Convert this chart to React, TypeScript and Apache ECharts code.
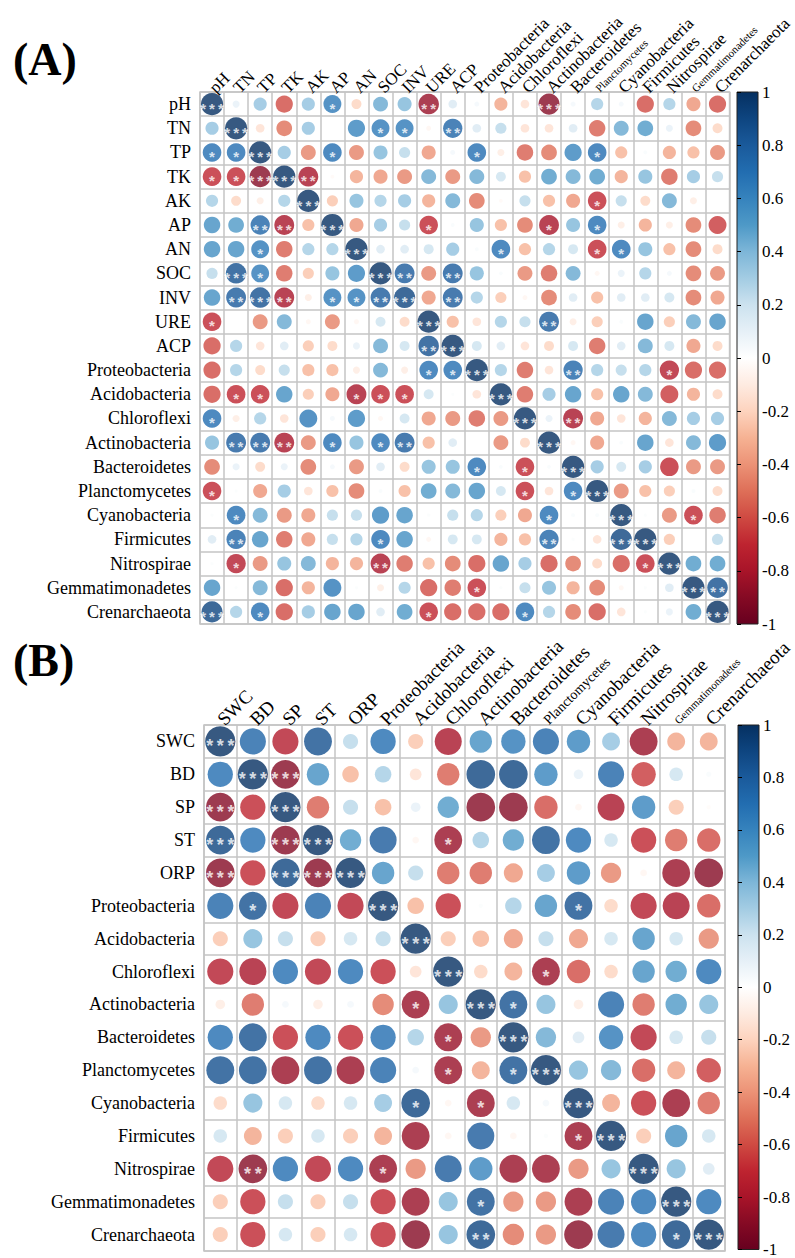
import React, { useEffect, useRef } from "react";
import * as echarts from "echarts";

const varsA = ["pH", "TN", "TP", "TK", "AK", "AP", "AN", "SOC", "INV", "URE", "ACP", "Proteobacteria", "Acidobacteria", "Chloroflexi", "Actinobacteria", "Bacteroidetes", "Planctomycetes", "Cyanobacteria", "Firmicutes", "Nitrospirae", "Gemmatimonadetes", "Crenarchaeota"];

const valuesA = [
  [1, 0.1, 0.35, -0.6, 0.35, 0.65, -0.2, 0.45, 0.4, -0.85, 0.15, 0.05, -0.35, -0.15, -0.9, 0.05, 0.3, 0.05, -0.6, 0.3, -0.4, -0.6],
  [0.35, 1, -0.15, -0.5, 0.35, 0, 0.6, 0.65, 0.65, -0.05, 0.75, 0.15, 0.25, -0.15, -0.15, 0.15, -0.55, 0.45, 0.5, 0.1, -0.5, -0.2],
  [0.7, 0.7, 1, 0.35, -0.45, 0.7, -0.45, 0.4, 0.25, -0.4, 0.05, 0.7, -0.1, -0.55, -0.5, 0.6, 0.7, -0.3, 0.03, -0.35, -0.3, -0.45],
  [-0.7, -0.7, -0.9, 1, -0.8, -0.03, -0.35, -0.4, -0.45, 0.45, -0.45, 0.45, 0.2, -0.3, 0.5, 0.45, 0.5, -0.35, 0.4, -0.55, 0.35, 0.25],
  [0.3, -0.2, -0.1, 0.3, 1, -0.25, 0.4, 0.3, 0.35, -0.35, 0.45, -0.5, -0.03, 0.25, -0.3, -0.4, -0.7, 0.25, -0.2, 0.45, -0.1, 0],
  [0.55, 0.5, 0.75, -0.8, -0.3, 1, -0.4, 0.35, 0.25, -0.7, 0.03, 0.4, -0.3, -0.5, -0.8, 0.4, 0.7, -0.1, -0.35, -0.1, -0.5, -0.65],
  [0.55, 0.55, 0.65, -0.55, 0.3, 0.3, 1, 0.15, 0.15, 0.2, 0.35, 0.03, 0.7, -0.3, 0.3, 0.2, -0.7, 0.7, 0.4, -0.3, -0.5, -0.2],
  [0.25, 0.85, 0.65, -0.55, -0.25, 0.4, 0.6, 1, 0.8, -0.45, 0.8, 0.4, 0.03, -0.45, -0.55, 0.45, -0.05, 0.1, 0.3, 0.05, -0.5, -0.45],
  [0.55, 0.8, 0.85, -0.8, -0.1, 0.65, 0.65, 0.8, 0.9, -0.4, 0.8, 0.3, -0.25, -0.05, -0.5, 0.15, -0.3, 0.15, 0.15, 0.2, -0.5, -0.4],
  [-0.7, 0, -0.45, 0.45, -0.05, -0.45, -0.05, 0.2, -0.2, 1, -0.3, -0.15, 0.3, 0.25, 0.8, -0.1, -0.25, 0.03, 0.55, -0.25, 0.45, 0.55],
  [-0.6, 0.3, -0.15, 0.15, -0.25, -0.2, 0.1, 0.45, 0.2, 0.85, 1, 0.2, 0.15, -0.15, -0.2, 0.2, -0.55, 0.15, 0.45, 0.2, -0.4, -0.2],
  [-0.6, 0.3, -0.2, 0.25, -0.3, -0.3, -0.1, 0.45, -0.1, 0.7, 0.7, 1, 0.3, -0.55, -0.15, 0.75, 0.3, 0.25, 0.3, -0.75, -0.6, -0.6],
  [-0.6, -0.7, -0.7, 0.55, -0.25, -0.4, -0.8, -0.7, -0.7, 0.2, 0.02, -0.15, 1, -0.55, 0.35, 0.55, -0.3, 0.55, 0.45, -0.65, -0.35, -0.2],
  [0.7, -0.1, 0.3, -0.15, 0.65, 0.05, 0.6, -0.05, 0.2, -0.4, -0.45, -0.55, -0.45, 1, 0.1, -0.8, -0.4, -0.15, -0.35, 0.45, 0.35, 0.35],
  [0.4, 0.8, 0.8, -0.8, -0.45, 0.7, 0.4, 0.7, 0.8, -0.3, 0.15, 0, -0.45, -0.2, 1, -0.05, -0.4, 0.03, 0.55, -0.15, 0.45, 0.6],
  [-0.5, 0.1, -0.2, 0.1, -0.5, 0.05, -0.45, 0.15, -0.2, 0.4, 0.4, 0.7, 0.03, -0.7, 0.03, 1, 0.35, 0.2, 0.35, -0.7, -0.45, -0.45],
  [-0.7, 0.02, -0.4, 0.35, -0.15, -0.3, -0.5, 0.03, -0.3, 0.5, 0.45, 0.55, 0.2, -0.7, -0.15, 0.7, 1, -0.45, -0.3, -0.25, 0.03, -0.2],
  [0.02, 0.7, 0.45, -0.45, -0.4, 0.25, 0.25, 0.6, 0.55, 0.02, 0.25, 0.3, -0.25, -0.4, 0.7, 0.03, 0.03, 1, 0.02, -0.45, -0.7, -0.55],
  [0.15, 0.75, 0.55, -0.55, -0.4, 0.25, 0.3, 0.7, 0.55, -0.05, 0.2, 0.2, -0.35, -0.3, 0.75, 0.02, -0.15, 0.9, 1, -0.25, 0, 0.25],
  [0.02, -0.75, -0.45, 0.4, 0.45, -0.35, -0.35, -0.8, -0.55, -0.3, -0.5, -0.6, 0.55, 0.35, -0.6, -0.5, -0.2, -0.6, -0.7, 1, 0.5, 0.5],
  [0.55, 0.02, 0.45, -0.6, -0.35, 0.65, 0.02, -0.1, 0.3, -0.6, -0.55, -0.7, 0.02, 0.25, 0.4, -0.35, -0.5, -0.05, 0.02, 0.15, 1, 0.85],
  [0.9, 0.3, 0.7, -0.6, 0.35, 0.55, 0.55, 0.15, 0.5, -0.7, -0.6, -0.6, -0.6, 0.7, 0.3, -0.5, -0.6, -0.15, 0.02, 0.1, 0.5, 1],
];

// [row, col, number of asterisks]
const sigA = [
  [0, 0, 3], [0, 5, 1], [0, 9, 2], [0, 14, 3],
  [1, 1, 3], [1, 7, 1], [1, 8, 1], [1, 10, 2],
  [2, 0, 1], [2, 1, 1], [2, 2, 3], [2, 5, 1], [2, 11, 1], [2, 16, 1],
  [3, 0, 1], [3, 1, 1], [3, 2, 3], [3, 3, 3], [3, 4, 2],
  [4, 4, 3], [4, 16, 1],
  [5, 2, 2], [5, 3, 2], [5, 5, 3], [5, 9, 1], [5, 14, 1], [5, 16, 1],
  [6, 2, 1], [6, 6, 3], [6, 12, 1], [6, 16, 1], [6, 17, 1],
  [7, 1, 3], [7, 2, 1], [7, 7, 3], [7, 8, 2], [7, 10, 2],
  [8, 1, 2], [8, 2, 3], [8, 3, 2], [8, 5, 1], [8, 6, 1], [8, 7, 2], [8, 8, 3], [8, 10, 2],
  [9, 0, 1], [9, 9, 3], [9, 14, 2],
  [10, 9, 2], [10, 10, 3],
  [11, 9, 1], [11, 10, 1], [11, 11, 3], [11, 15, 2], [11, 19, 1],
  [12, 1, 1], [12, 2, 1], [12, 6, 1], [12, 7, 1], [12, 8, 1], [12, 12, 3],
  [13, 0, 1], [13, 13, 3], [13, 15, 2],
  [14, 1, 2], [14, 2, 2], [14, 3, 2], [14, 5, 1], [14, 7, 1], [14, 8, 2], [14, 14, 3],
  [15, 11, 1], [15, 13, 1], [15, 15, 3],
  [16, 0, 1], [16, 13, 1], [16, 15, 1], [16, 16, 3],
  [17, 1, 1], [17, 14, 1], [17, 17, 3], [17, 20, 1],
  [18, 1, 2], [18, 7, 1], [18, 14, 2], [18, 17, 3], [18, 18, 3],
  [19, 1, 1], [19, 7, 2], [19, 18, 1], [19, 19, 3],
  [20, 11, 1], [20, 20, 3], [20, 21, 2],
  [21, 0, 3], [21, 2, 1], [21, 9, 1], [21, 13, 1], [21, 21, 3],
];

const varsB = ["SWC", "BD", "SP", "ST", "ORP", "Proteobacteria", "Acidobacteria", "Chloroflexi", "Actinobacteria", "Bacteroidetes", "Planctomycetes", "Cyanobacteria", "Firmicutes", "Nitrospirae", "Gemmatimonadetes", "Crenarchaeota"];

const valuesB = [
  [1, 0.75, -0.75, 0.85, 0.25, 0.7, -0.25, -0.8, 0.55, 0.65, 0.75, 0.6, 0.35, -0.85, -0.35, -0.35],
  [0.7, 1, -0.9, 0.55, -0.3, 0.3, -0.15, -0.55, 0.9, 0.9, 0.6, 0.1, 0.75, -0.65, 0.2, 0.03],
  [-0.9, -0.7, 1, -0.55, 0.25, -0.3, 0.1, 0.5, -0.9, -0.9, -0.6, -0.05, -0.8, 0.6, -0.25, -0.02],
  [0.9, 0.7, -0.9, 1, 0.5, 0.8, -0.05, -0.85, 0.3, 0.5, 0.85, 0.7, 0.2, -0.7, -0.55, -0.6],
  [-0.9, -0.7, 0.9, -0.9, 1, 0.55, 0.25, -0.55, -0.55, -0.4, 0.35, 0.6, -0.45, -0.05, -0.85, -0.9],
  [0.75, 0.85, -0.75, 0.75, -0.75, 1, -0.3, -0.7, 0.02, 0.3, 0.55, 0.85, -0.2, -0.75, -0.8, -0.6],
  [-0.25, 0.4, 0.25, -0.25, 0.2, 0.25, 1, -0.25, -0.3, -0.4, 0.25, -0.4, 0.2, 0.55, 0.2, -0.45],
  [-0.75, -0.8, 0.7, -0.75, 0.7, -0.7, -0.15, 1, -0.2, -0.35, -0.85, -0.6, -0.2, 0.55, 0.5, 0.7],
  [-0.1, -0.55, 0.05, -0.1, 0.05, -0.5, -0.85, 0.4, 1, 0.85, 0.4, -0.1, 0.75, -0.55, 0.5, 0.4],
  [0.7, 0.85, -0.7, 0.7, -0.7, 0.7, 0.3, -0.85, -0.45, 1, 0.45, 0.15, 0.65, -0.75, 0.2, 0.25],
  [0.85, 0.85, -0.85, 0.85, -0.85, 0.75, 0.05, -0.85, -0.35, 0.85, 1, 0.4, 0.45, -0.6, -0.35, -0.65],
  [-0.2, 0.4, 0.2, -0.2, 0.2, 0.35, 0.9, -0.05, -0.85, 0.2, 0.05, 1, -0.35, -0.7, -0.85, -0.55],
  [0.2, -0.35, -0.25, 0.2, -0.25, -0.35, -0.85, -0.05, 0.8, -0.05, 0.02, -0.85, 1, -0.25, 0.55, 0.2],
  [-0.75, -0.9, 0.7, -0.75, 0.7, -0.85, -0.45, 0.8, 0.6, -0.85, -0.85, -0.45, 0.4, 1, 0.4, 0.15],
  [-0.25, -0.7, 0.25, -0.25, 0.25, -0.7, -0.85, 0.4, 0.85, -0.45, -0.45, -0.85, 0.75, 0.7, 1, 0.7],
  [-0.25, -0.7, 0.2, -0.25, 0.2, -0.7, -0.9, 0.4, 0.9, -0.5, -0.45, -0.9, 0.8, 0.7, 0.9, 1],
];

const sigB = [
  [0, 0, 3],
  [1, 1, 3], [1, 2, 3],
  [2, 0, 3], [2, 2, 3],
  [3, 0, 3], [3, 2, 3], [3, 3, 3], [3, 7, 1],
  [4, 0, 3], [4, 2, 3], [4, 3, 3], [4, 4, 3],
  [5, 1, 1], [5, 5, 3], [5, 11, 1],
  [6, 6, 3],
  [7, 7, 3], [7, 10, 1],
  [8, 6, 1], [8, 8, 3], [8, 9, 1],
  [9, 7, 1], [9, 9, 3],
  [10, 7, 1], [10, 9, 1], [10, 10, 3],
  [11, 6, 1], [11, 8, 1], [11, 11, 3],
  [12, 11, 1], [12, 12, 3],
  [13, 1, 2], [13, 5, 1], [13, 13, 3],
  [14, 8, 1], [14, 14, 3],
  [15, 8, 2], [15, 14, 1], [15, 15, 3],
];

const panelTitles = ["(A)", "(B)"];
const smallLabelsA = ["Planctomycetes", "Gemmatimonadetes"];
const smallLabelsB = ["Gemmatimonadetes"];
const midLabelsB = ["Planctomycetes"];

// colour scale from -1 (first) to 1 (last), steps of 0.1
const palette = [
  "#67001F", "#850A24", "#A81429", "#BE2430", "#CF4A42", "#DE6F58", "#EC9276", "#F6B293", "#FDD3BE", "#FEEBE1",
  "#FFFFFF",
  "#E6F0F7", "#CCE2EF", "#A3CCE3", "#7DB6D8", "#4E99C7", "#3683BD", "#226DB0", "#1A5A9B", "#0E4580", "#053061",
];

const SERIF = "'Liberation Serif', 'Times New Roman', serif";

function buildData(values: number[][], sig: number[][]) {
  const m = new Map<string, number>();
  sig.forEach(([r, c, n]) => m.set(r + "-" + c, n));
  const out: any[] = [];
  values.forEach((row, r) =>
    row.forEach((v, c) => out.push({ value: [c, r, v, m.get(r + "-" + c) || 0] }))
  );
  return out;
}

function barGradient() {
  return new echarts.graphic.LinearGradient(
    0, 0, 0, 1,
    palette.slice().reverse().map((c, i) => ({ offset: i / (palette.length - 1), color: c }))
  );
}

export default function App() {
  const ref = useRef<HTMLDivElement>(null);
  useEffect(() => {
    document.body.style.margin = "0";
    const chart = echarts.init(ref.current!, null, { renderer: "svg" });

    const A = { left: 200, top: 92, size: 532 };
    const B = { left: 204, top: 725, size: 526 };
    const cellA = A.size / varsA.length;
    const cellB = B.size / varsB.length;

    const gridLine = { show: true, interval: 0, lineStyle: { color: "#c4c4c4", width: 1.5 } };

    const catX = (grid: number, data: string[], fontSize: number, small: string[], mid: string[], smallSize: number, midSize: number, margin: number) => ({
      type: "category",
      gridIndex: grid,
      position: "top",
      data,
      boundaryGap: true,
      axisLine: { show: false },
      axisTick: { show: false },
      splitLine: gridLine,
      axisLabel: {
        interval: 0,
        rotate: -45,
        align: "left",
        verticalAlign: "middle",
        margin,
        color: "#000",
        fontFamily: SERIF,
        fontSize,
        formatter: (v: string) => (small.includes(v) ? `{s|${v}}` : mid.includes(v) ? `{m|${v}}` : v),
        rich: {
          s: { fontFamily: SERIF, fontSize: smallSize, color: "#000" },
          m: { fontFamily: SERIF, fontSize: midSize, color: "#000" },
        },
      },
    });
    const catY = (grid: number, data: string[], fontSize: number) => ({
      type: "category",
      gridIndex: grid,
      inverse: true,
      data,
      boundaryGap: true,
      axisLine: { show: false },
      axisTick: { show: false },
      splitLine: gridLine,
      axisLabel: { interval: 0, margin: 9, color: "#000", fontFamily: SERIF, fontSize },
    });
    const barY = (grid: number) => ({
      type: "value",
      gridIndex: grid,
      position: "right",
      min: -1,
      max: 1,
      interval: 0.2,
      axisLine: { show: false },
      axisTick: { show: true, length: 4, lineStyle: { color: "#000", width: 1 } },
      splitLine: { show: false },
      axisLabel: {
        margin: 4,
        color: "#000",
        fontFamily: SERIF,
        fontSize: 17,
        formatter: (v: number) => String(Math.round(v * 10) / 10),
      },
    });

    const scatter = (xi: number, yi: number, values: number[][], sig: number[][], cell: number, starSize: number) => ({
      type: "scatter",
      xAxisIndex: xi,
      yAxisIndex: yi,
      symbol: "circle",
      symbolSize: (val: number[]) => cell * 0.92 * Math.sqrt(Math.abs(val[2])),
      data: buildData(values, sig),
      label: {
        show: true,
        position: "inside",
        formatter: (p: any) => Array(p.value[3]).fill("*").join("\u2009"),
        color: "#fff",
        fontFamily: "'Liberation Sans', Arial, sans-serif",
        fontWeight: "bold",
        fontSize: starSize,
        offset: [0, starSize * 0.28],
      },
      emphasis: { disabled: true },
    });

    chart.setOption({
      animation: false,
      backgroundColor: "#fff",
      title: [
        { text: panelTitles[0], left: 8, top: 31, textStyle: { fontFamily: SERIF, fontSize: 46, fontWeight: "bold", color: "#000" } },
        { text: panelTitles[1], left: 8, top: 632, textStyle: { fontFamily: SERIF, fontSize: 46, fontWeight: "bold", color: "#000" } },
      ],
      grid: [
        { left: A.left, top: A.top, width: A.size, height: A.size, show: true, backgroundColor: "#fff", borderColor: "#c4c4c4", borderWidth: 1.5 },
        { left: 737, top: A.top, width: 21, height: A.size, show: true, backgroundColor: barGradient(), borderColor: "#222", borderWidth: 1 },
        { left: B.left, top: B.top, width: B.size, height: B.size, show: true, backgroundColor: "#fff", borderColor: "#c4c4c4", borderWidth: 1.5 },
        { left: 738, top: B.top, width: 21, height: B.size, show: true, backgroundColor: barGradient(), borderColor: "#222", borderWidth: 1 },
      ],
      xAxis: [
        catX(0, varsA, 17, smallLabelsA, [], 11, 11, 2),
        { type: "value", gridIndex: 1, show: false },
        catX(2, varsB, 19, smallLabelsB, midLabelsB, 11, 14, 3),
        { type: "value", gridIndex: 3, show: false },
      ],
      yAxis: [catY(0, varsA, 18), barY(1), catY(2, varsB, 18), barY(3)],
      visualMap: {
        show: false,
        type: "continuous",
        seriesIndex: [0, 1],
        dimension: 2,
        min: -1,
        max: 1,
        inRange: { color: palette },
      },
      series: [
        scatter(0, 0, valuesA, sigA, cellA, 15),
        scatter(2, 2, valuesB, sigB, cellB, 18),
      ],
    });
    return () => chart.dispose();
  }, []);
  return <div ref={ref} style={{ width: 795, height: 1258 }} />;
}
